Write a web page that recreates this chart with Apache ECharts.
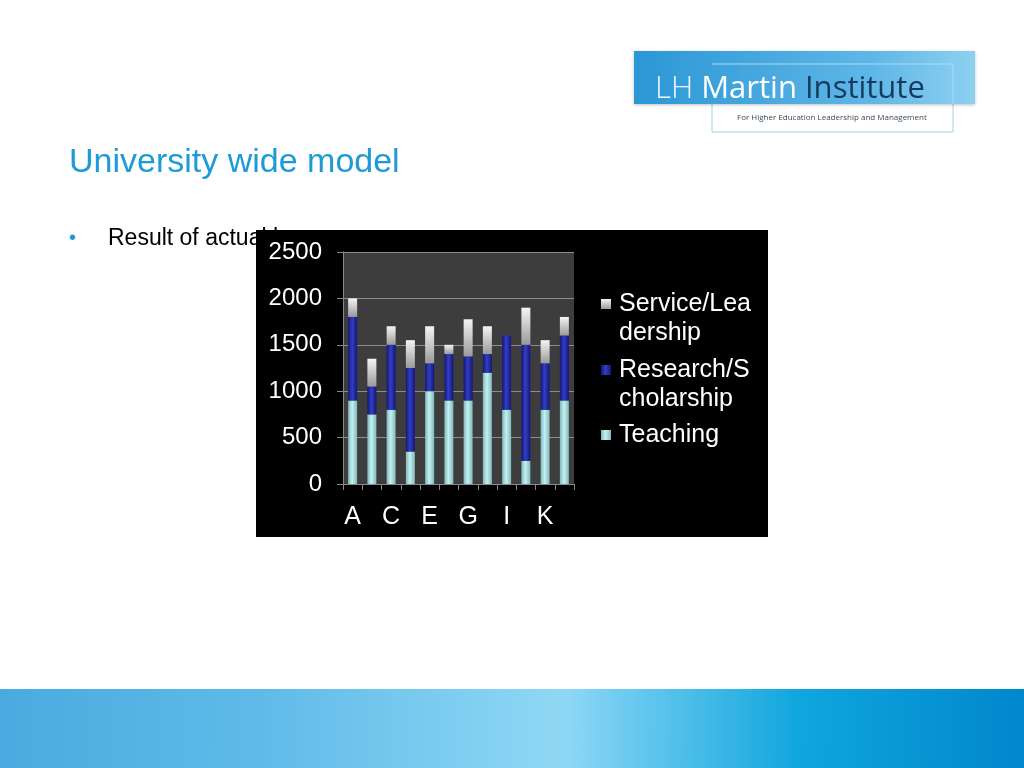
<!DOCTYPE html>
<html>
<head>
<meta charset="utf-8">
<script src="https://cdn.jsdelivr.net/npm/echarts@6/dist/echarts.min.js"></script>
<style>
html,body{margin:0;padding:0;background:#fff;}
#c{width:1024px;height:768px;}
</style>
</head>
<body>
<div id="c"></div>
<script>
var categories = ['A','B','C','D','E','F','G','H','I','J','K','L'];
var teaching = [900, 750, 800, 350, 1000, 900, 900, 1200, 800, 250, 800, 900];
var research = [900, 300, 700, 900, 300, 500, 475, 200, 800, 1250, 500, 700];
var service  = [200, 300, 200, 300, 400, 100, 400, 300, 0, 400, 250, 200];
var yTicks = [0, 500, 1000, 1500, 2000, 2500];
var seriesNames = ['Teaching', 'Research/Scholarship', 'Service/Leadership'];
var legendLines = [['Service/Lea','dership'], ['Research/S','cholarship'], ['Teaching']];

function hGrad(edge, mid) {
  return new echarts.graphic.LinearGradient(0,0,1,0,[
    {offset:0,color:edge},{offset:0.45,color:mid},{offset:1,color:edge}]);
}
var colTeach = hGrad('#7fb9bb', '#c4f0f0');
var colRes = hGrad('#15157a', '#3040c0');
var colServ = new echarts.graphic.LinearGradient(0,0,0,1,[
  {offset:0,color:'#f4f4f4'},{offset:1,color:'#9a9a9a'}]);

var chart = echarts.init(document.getElementById('c'));
var font = 'Liberation Sans, Arial, sans-serif';

var legendGraphics = [];
var legendCols = [colServ, colRes, colTeach];
var legendY = [304, 370, 435];
legendLines.forEach(function(lines, i){
  legendGraphics.push({type:'rect', shape:{x:601, y:legendY[i]-5, width:10, height:10},
    style:{fill:legendCols[i]}, z:10});
  lines.forEach(function(t, j){
    legendGraphics.push({type:'text', x:619, y:legendY[i] + j*29,
      style:{text:t, fill:'#fff', font:'25px '+font, textVerticalAlign:'middle'}, z:10});
  });
});

var option = {
  animation:false,
  backgroundColor:'#ffffff',
  grid:{left:343, right:450, top:252, bottom:284, show:true, backgroundColor:'#3d3d3d', borderWidth:0},
  xAxis:{type:'category', data:categories,
    axisLine:{lineStyle:{color:'#8a8a8a'}},
    axisTick:{show:true, interval:0, length:6, lineStyle:{color:'#8a8a8a'}},
    axisLabel:{interval:1, color:'#ffffff', fontSize:25, fontFamily:font, margin:21}},
  yAxis:{type:'value', min:0, max:2500, interval:500,
    axisLine:{show:true, lineStyle:{color:'#8a8a8a'}},
    axisTick:{show:true, length:6, lineStyle:{color:'#8a8a8a'}},
    splitLine:{lineStyle:{color:'#8c8c8c', width:1}},
    axisLabel:{color:'#ffffff', fontSize:24, fontFamily:font, margin:21,
      formatter:function(v){ return yTicks.indexOf(v)>=0 ? String(v) : ''; }}},
  series:[
    {name:seriesNames[0], type:'bar', stack:'s', data:teaching, barWidth:9, itemStyle:{color:colTeach}},
    {name:seriesNames[1], type:'bar', stack:'s', data:research, barWidth:9, itemStyle:{color:colRes}},
    {name:seriesNames[2], type:'bar', stack:'s', data:service, barWidth:9, itemStyle:{color:colServ}}
  ],
  graphic:[
    // slide text
    {type:'text', x:69, y:163, z:-100, style:{text:'University wide model', fill:'#1e9ad6',
      font:'34px '+font, textVerticalAlign:'middle'}},
    {type:'text', x:69, y:238, z:-100, style:{text:'•', fill:'#1e9ad6',
      font:'20px '+font, textVerticalAlign:'middle'}},
    {type:'text', x:108, y:239, z:-100, style:{text:'Result of actual hours', fill:'#000',
      font:'23px '+font, textVerticalAlign:'middle'}},
    // chart frame
    {type:'rect', z:-50, shape:{x:256, y:230, width:512, height:307}, style:{fill:'#000'}},
    // bottom band
    {type:'rect', z:-100, shape:{x:0, y:689, width:1024, height:79},
      style:{fill:new echarts.graphic.LinearGradient(0,0,1,0.15,[
        {offset:0,color:'#4aaadf'},{offset:0.25,color:'#5fbae8'},{offset:0.55,color:'#8fd8f5'},
        {offset:0.78,color:'#10a6de'},{offset:1,color:'#0087cc'}])}},
    // logo
    {type:'rect', z:-90, shape:{x:712, y:64, width:241, height:68}, style:{fill:'#fff', stroke:'#a9cfe0', lineWidth:1}},
    {type:'rect', z:-80, shape:{x:634, y:51, width:341, height:53},
      style:{fill:new echarts.graphic.LinearGradient(0,0,1,0,[
        {offset:0,color:'#2b97d5'},{offset:0.7,color:'#5fb7e7'},{offset:1,color:'#8ed0f0'}]),
        shadowBlur:3, shadowColor:'rgba(0,0,0,0.25)', shadowOffsetY:1}},
    {type:'line', z:-70, shape:{x1:712, y1:64, x2:953, y2:64}, style:{stroke:'#a9dcf2', lineWidth:1}},
    {type:'line', z:-70, shape:{x1:953, y1:64, x2:953, y2:104}, style:{stroke:'#a9dcf2', lineWidth:1}},
    {type:'text', z:-60, x:655, y:89, style:{
      text:'{a|LH }{b|Martin }{c|Institute}', textVerticalAlign:'middle',
      rich:{
        a:{fontSize:31, fontFamily:'Open Sans', fontWeight:300, fill:'#f0f8fd'},
        b:{fontSize:31, fontFamily:'Open Sans', fontWeight:500, fill:'#ffffff'},
        c:{fontSize:31, fontFamily:'Open Sans', fontWeight:400, fill:'#163a5e'}
      }}},
    {type:'text', z:-60, x:737, y:118, style:{text:'For Higher Education Leadership and Management',
      fill:'#3a4a5a', font:'8px Open Sans, '+font, textVerticalAlign:'middle'}}
  ].concat(legendGraphics)
};
chart.setOption(option);
</script>
</body>
</html>
